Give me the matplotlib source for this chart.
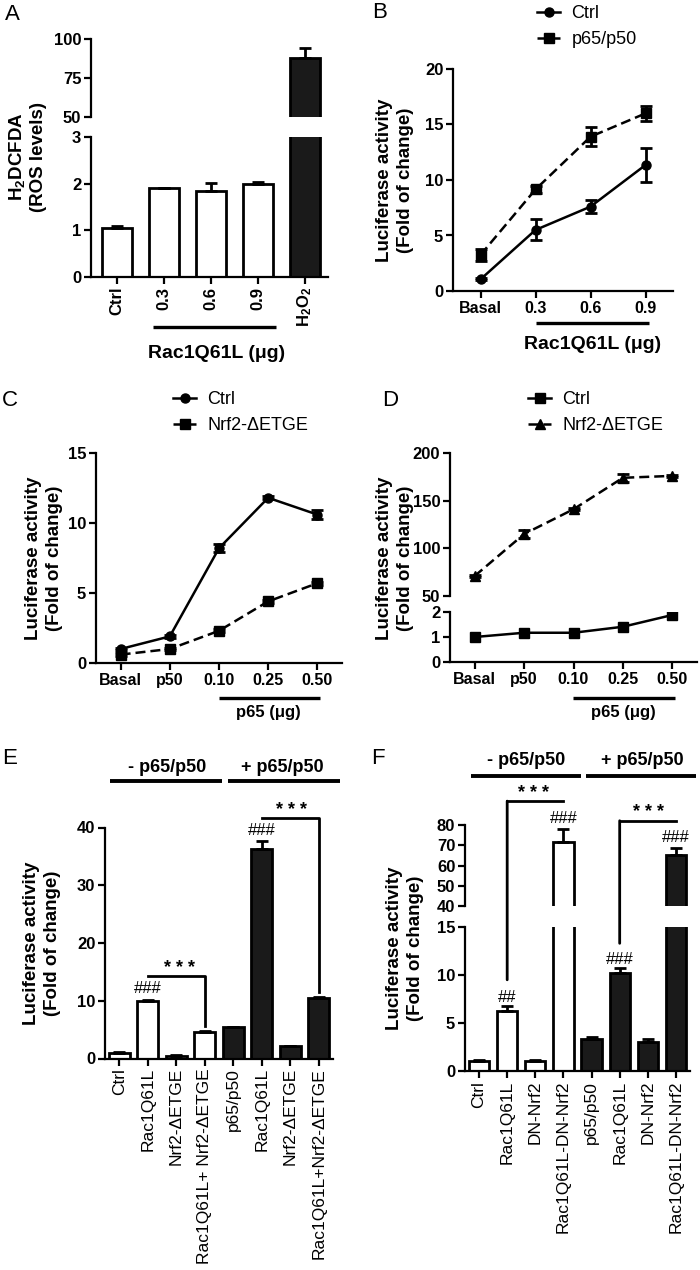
import matplotlib
matplotlib.use('Agg')
import matplotlib.pyplot as plt
from matplotlib.patches import ConnectionPatch
import numpy as np

plt.rcParams['font.family'] = ['Liberation Sans', 'DejaVu Sans']
plt.rcParams['mathtext.fontset'] = 'custom'
plt.rcParams['mathtext.rm'] = 'Liberation Sans'
plt.rcParams['mathtext.bf'] = 'Liberation Sans:bold'
plt.rcParams['axes.linewidth'] = 1.6

# ---- data ----
# A: ROS levels
a_labels = ['Ctrl', '0.3', '0.6', '0.9', r'$\mathbf{H_2O_2}$']
a_vals = [1.04, 1.90, 1.85, 1.99, 87.6]
a_err = [0.06, 0.01, 0.17, 0.05, 6.4]
a_fill = ['white', 'white', 'white', 'white', '#1a1a1a']

# B: luciferase vs Rac1Q61L
b_labels = ['Basal', '0.3', '0.6', '0.9']
b_ctrl = [1.05, 5.5, 7.6, 11.35]
b_ctrl_err = [0.1, 0.95, 0.6, 1.55]
b_p65 = [3.25, 9.15, 13.9, 16.0]
b_p65_err = [0.55, 0.35, 0.85, 0.7]

# C / D: luciferase vs p65
cd_labels = ['Basal', 'p50', '0.10', '0.25', '0.50']
c_ctrl = [1.0, 1.9, 8.2, 11.8, 10.6]
c_ctrl_err = [0.1, 0.1, 0.3, 0.1, 0.3]
c_nrf2 = [0.6, 1.0, 2.3, 4.4, 5.7]
c_nrf2_err = [0.1, 0.1, 0.1, 0.1, 0.1]
d_ctrl = [1.0, 1.17, 1.17, 1.41, 1.88]
d_ctrl_err = [0.02, 0.02, 0.02, 0.03, 0.03]
d_nrf2 = [71, 115, 141, 174, 176]
d_nrf2_err = [1, 4, 1, 4, 1]

# E
e_labels = ['Ctrl', 'Rac1Q61L', 'Nrf2-ΔETGE', 'Rac1Q61L+ Nrf2-ΔETGE',
            'p65/p50', 'Rac1Q61L', 'Nrf2-ΔETGE', 'Rac1Q61L+Nrf2-ΔETGE']
e_vals = [1.0, 10.0, 0.5, 4.6, 5.4, 36.2, 2.1, 10.4]
e_err = [0.1, 0.2, 0.1, 0.1, 0.1, 1.5, 0.1, 0.3]

# F
f_labels = ['Ctrl', 'Rac1Q61L', 'DN-Nrf2', 'Rac1Q61L-DN-Nrf2',
            'p65/p50', 'Rac1Q61L', 'DN-Nrf2', 'Rac1Q61L-DN-Nrf2']
f_vals = [1.0, 6.2, 1.0, 71.8, 3.3, 10.2, 3.0, 65.2]
f_err = [0.1, 0.6, 0.1, 6.1, 0.2, 0.5, 0.35, 3.3]

bar_fill = ['white'] * 4 + ['#1a1a1a'] * 4

W, H = 700, 1270
fig = plt.figure(figsize=(W / 100, H / 100), dpi=100)


def box(l, t, r, b):
    return [l / W, 1 - b / H, (r - l) / W, (b - t) / H]


def style(ax, yticks, xaxis=True):
    for s in ['top', 'right']:
        ax.spines[s].set_visible(False)
    ax.set_yticks(yticks, labels=[str(v) for v in yticks], fontweight='bold', fontsize=12)
    ax.tick_params(direction='out', length=5, width=1.6, pad=2)
    if not xaxis:
        ax.spines['bottom'].set_visible(False)
        ax.tick_params(axis='x', bottom=False, labelbottom=False)


def bars(ax, vals, err, fill, width):
    x = np.arange(len(vals))
    ax.bar(x, vals, width=width, color=fill, edgecolor='black', linewidth=2)
    ax.errorbar(x, vals, yerr=[np.zeros(len(x)), err], fmt='none', ecolor='black',
                elinewidth=2, capsize=4, capthick=2)


def group_line(ax, x0, x1, y, lw=2.4):
    ax.plot([x0, x1], [y, y], color='black', lw=lw, transform=ax.get_xaxis_transform(),
            clip_on=False, solid_capstyle='butt')


def ylab(x, y, s, size=13.5):
    fig.text(x / W, 1 - y / H, s, rotation=90, ha='center', va='center',
             fontweight='bold', fontsize=size, linespacing=1.25)


def letter(x, y, s):
    fig.text(x / W, 1 - y / H, s, ha='center', va='center', fontsize=16)


def stars(ax, x, y):
    ax.text(x, y, '* * *', ha='center', va='center', fontsize=13, fontweight='bold', clip_on=False)


def hashes(ax, x, y, s):
    ax.text(x, y, s, ha='center', va='center', fontsize=12, clip_on=False)


lum = 'Luciferase activity\n(Fold of change)'
leg_kw = dict(loc='upper left', frameon=False, fontsize=13, handlelength=1.3, handletextpad=0.6,
              labelspacing=0.5, borderpad=0, borderaxespad=0)

# ---- A ----
xa = np.arange(len(a_vals))
axA2 = fig.add_axes(box(91, 39, 328, 117))
axA1 = fig.add_axes(box(91, 137, 328, 277))
for ax in (axA1, axA2):
    bars(ax, a_vals, a_err, a_fill, 0.64)
    ax.set_xlim(-0.55, 4.5)
style(axA1, [0, 1, 2, 3])
axA1.set_ylim(0, 3)
style(axA2, [50, 75, 100], xaxis=False)
axA2.set_ylim(50, 100)
axA1.set_xticks(xa, labels=a_labels, rotation=90, fontweight='bold', fontsize=12)
group_line(axA1, 0.77, 3.4, -0.357)
axA1.text(2.13, -0.543, 'Rac1Q61L (μg)', transform=axA1.get_xaxis_transform(),
          ha='center', va='center', fontweight='bold', fontsize=14)
ylab(27, 157, r'$\mathbf{H_2}$DCFDA' + '\n(ROS levels)')
letter(12, 15, 'A')

# ---- B ----
xb = np.arange(len(b_labels))
axB = fig.add_axes(box(453, 69, 673, 291))
lb1, = axB.plot(xb, b_ctrl, '-o', color='black', lw=1.8, ms=6.5)
lb2, = axB.plot(xb, b_p65, 's', ls=(0, (4, 2)), color='black', lw=1.8, ms=6.5)
axB.errorbar(xb, b_ctrl, yerr=b_ctrl_err, fmt='none', ecolor='black', elinewidth=2, capsize=4, capthick=2)
axB.errorbar(xb, b_p65, yerr=b_p65_err, fmt='none', ecolor='black', elinewidth=2, capsize=4, capthick=2)
style(axB, [0, 5, 10, 15, 20])
axB.set_ylim(0, 20)
axB.set_xlim(-0.5, 3.5)
axB.set_xticks(xb, labels=b_labels, fontweight='bold', fontsize=11.5)
group_line(axB, 1.0, 3.07, -0.144)
axB.text(2.04, -0.243, 'Rac1Q61L (μg)', transform=axB.get_xaxis_transform(),
         ha='center', va='center', fontweight='bold', fontsize=14)
ylab(395, 180, lum)
letter(380, 12, 'B')
fig.legend([lb1, lb2], ['Ctrl', 'p65/p50'], bbox_to_anchor=(537 / W, 1 - 5 / H), **leg_kw)

# ---- C ----
xc = np.arange(len(cd_labels))
axC = fig.add_axes(box(96, 453, 342, 663))
lc1, = axC.plot(xc, c_ctrl, '-o', color='black', lw=1.8, ms=6.5)
lc2, = axC.plot(xc, c_nrf2, 's', ls=(0, (4, 2)), color='black', lw=1.8, ms=6.5)
axC.errorbar(xc, c_ctrl, yerr=c_ctrl_err, fmt='none', ecolor='black', elinewidth=2, capsize=4, capthick=2)
axC.errorbar(xc, c_nrf2, yerr=c_nrf2_err, fmt='none', ecolor='black', elinewidth=2, capsize=4, capthick=2)
style(axC, [0, 5, 10, 15])
axC.set_ylim(0, 15)
axC.set_xlim(-0.5, 4.5)
axC.set_xticks(xc, labels=cd_labels, fontweight='bold', fontsize=11.5)
group_line(axC, 2.0, 4.06, -0.167)
axC.text(3.0, -0.238, 'p65 (μg)', transform=axC.get_xaxis_transform(),
         ha='center', va='center', fontweight='bold', fontsize=12)
ylab(44, 558, lum)
letter(10, 400, 'C')
fig.legend([lc1, lc2], ['Ctrl', 'Nrf2-ΔETGE'], bbox_to_anchor=(173 / W, 1 - 391 / H), **leg_kw)

# ---- D ----
axD2 = fig.add_axes(box(450, 453, 697, 596))
axD1 = fig.add_axes(box(450, 612, 697, 662))
ld2, = axD2.plot(xc, d_nrf2, '^', ls=(0, (4, 2)), color='black', lw=1.8, ms=6.5)
axD2.errorbar(xc, d_nrf2, yerr=d_nrf2_err, fmt='none', ecolor='black', elinewidth=2, capsize=4, capthick=2)
ld1, = axD1.plot(xc, d_ctrl, '-s', color='black', lw=1.8, ms=6.5)
for ax in (axD1, axD2):
    ax.set_xlim(-0.5, 4.5)
style(axD1, [0, 1, 2])
axD1.set_ylim(0, 2)
style(axD2, [50, 100, 150, 200], xaxis=False)
axD2.set_ylim(50, 200)
axD1.set_xticks(xc, labels=cd_labels, fontweight='bold', fontsize=11.5)
group_line(axD1, 1.98, 4.06, -0.72)
axD1.text(3.0, -1.02, 'p65 (μg)', transform=axD1.get_xaxis_transform(),
          ha='center', va='center', fontweight='bold', fontsize=12)
ylab(395, 558, lum)
letter(390, 400, 'D')
fig.legend([ld1, ld2], ['Ctrl', 'Nrf2-ΔETGE'], bbox_to_anchor=(528 / W, 1 - 391 / H), **leg_kw)

# ---- E ----
xe = np.arange(len(e_vals))
axE = fig.add_axes(box(105, 827.5, 333, 1058.5))
bars(axE, e_vals, e_err, bar_fill, 0.73)
style(axE, [0, 10, 20, 30, 40])
axE.set_ylim(0, 40)
axE.set_xlim(-0.5, 7.5)
axE.set_xticks(xe, labels=e_labels, rotation=90, fontsize=12.5)
group_line(axE, -0.31, 3.6, 1.201, lw=2.8)
group_line(axE, 3.81, 7.73, 1.201, lw=2.8)
axE.text(1.68, 1.258, '- p65/p50', transform=axE.get_xaxis_transform(),
         ha='center', va='center', fontweight='bold', fontsize=13)
axE.text(5.73, 1.258, '+ p65/p50', transform=axE.get_xaxis_transform(),
         ha='center', va='center', fontweight='bold', fontsize=13)
axE.plot([1, 3, 3], [14.2, 14.2, 5.7], color='black', lw=2, clip_on=False)
axE.plot([5, 7, 7], [41.7, 41.7, 11.6], color='black', lw=2, clip_on=False)
stars(axE, 2.13, 15.6)
stars(axE, 6.05, 43.0)
hashes(axE, 1, 12.1, '###')
hashes(axE, 5, 39.5, '###')
ylab(42, 943, lum)
letter(10, 758, 'E')

# ---- F ----
xf = np.arange(len(f_vals))
axF2 = fig.add_axes(box(465, 825, 690, 906))
axF1 = fig.add_axes(box(465, 927, 690, 1071))
for ax in (axF1, axF2):
    bars(ax, f_vals, f_err, bar_fill, 0.72)
    ax.set_xlim(-0.5, 7.5)
style(axF1, [0, 5, 10, 15])
axF1.set_ylim(0, 15)
style(axF2, [40, 50, 60, 70, 80], xaxis=False)
axF2.set_ylim(40, 80)
axF1.set_xticks(xf, labels=f_labels, rotation=90, fontsize=12.5)
group_line(axF2, -0.29, 3.63, 1.611, lw=2.8)
group_line(axF2, 3.81, 7.7, 1.611, lw=2.8)
axF2.text(1.69, 1.796, '- p65/p50', transform=axF2.get_xaxis_transform(),
          ha='center', va='center', fontweight='bold', fontsize=13)
axF2.text(5.79, 1.796, '+ p65/p50', transform=axF2.get_xaxis_transform(),
          ha='center', va='center', fontweight='bold', fontsize=13)
for xv, ylo, yhi, xend in [(1, 9.5, 91.8, 3), (5, 13.3, 82.1, 7)]:
    con = ConnectionPatch(xyA=(xv, yhi), coordsA=axF2.transData, xyB=(xv, ylo), coordsB=axF1.transData,
                          color='black', lw=2)
    fig.add_artist(con)
    axF2.plot([xv, xend], [yhi, yhi], color='black', lw=2, clip_on=False)
stars(axF2, 1.94, 95.8)
stars(axF2, 6.04, 86.1)
hashes(axF1, 1, 7.7, '##')
hashes(axF2, 3, 83.4, '###')
hashes(axF1, 5, 11.6, '###')
hashes(axF2, 7, 74.0, '###')
ylab(405, 948, lum)
letter(378, 758, 'F')

fig.savefig('out.png', dpi=100, facecolor='white')
